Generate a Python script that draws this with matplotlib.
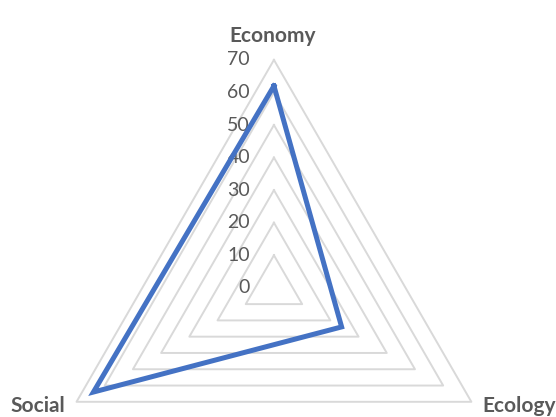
import numpy as np
import matplotlib
matplotlib.use("Agg")
import matplotlib.pyplot as plt
from matplotlib.transforms import offset_copy

plt.rcParams['font.family'] = ['Lato', 'DejaVu Sans']

# chart data
categories = ["Economy", "Ecology", "Social"]
values = [62, 24, 64]
ring_levels = [10, 20, 30, 40, 50, 60, 70]
tick_labels = ["0", "10", "20", "30", "40", "50", "60", "70"]

BLUE = "#4472C4"
GRID = "#D9D9D9"
TEXT = "#595959"

fig = plt.figure(figsize=(5.56, 4.17), dpi=100)
ax = fig.add_axes([0.0827, -0.237, 0.820, 1.0935], projection="polar")
ax.set_theta_offset(np.pi / 2)
ax.set_theta_direction(-1)
ax.set_ylim(0, 70)
ax.grid(False)
ax.spines["polar"].set_visible(False)
ax.set_xticks([])
ax.set_yticks([])
ax.patch.set_alpha(0)

angles = np.linspace(0, 2 * np.pi, len(categories), endpoint=False)
closed = np.append(angles, angles[0])

# triangular gridlines
for lvl in ring_levels:
    ax.plot(closed, [lvl] * len(closed), color=GRID, lw=1.4, clip_on=False, zorder=1)

# data series
vals = values + values[:1]
ax.plot(closed, vals, color=BLUE, lw=3.6, clip_on=False, zorder=3,
        solid_joinstyle="miter")

# value labels along the top axis
trans = offset_copy(ax.transData, fig=fig, x=-24, y=0, units="dots")
for i, lab in enumerate(tick_labels):
    ax.text(0, i * 10, lab, transform=trans, ha="right", va="center",
            fontsize=14, color=TEXT, zorder=2)

# category labels
lab_kw = dict(ha="center", va="center", fontsize=15, fontweight="bold", color=TEXT)
fig.text(273 / 556, 1 - 36 / 417, categories[0], **lab_kw)
fig.text(519 / 556, 1 - 406 / 417, categories[1], **lab_kw)
fig.text(38 / 556, 1 - 406 / 417, categories[2], **lab_kw)

fig.savefig("out.png", dpi=100)
